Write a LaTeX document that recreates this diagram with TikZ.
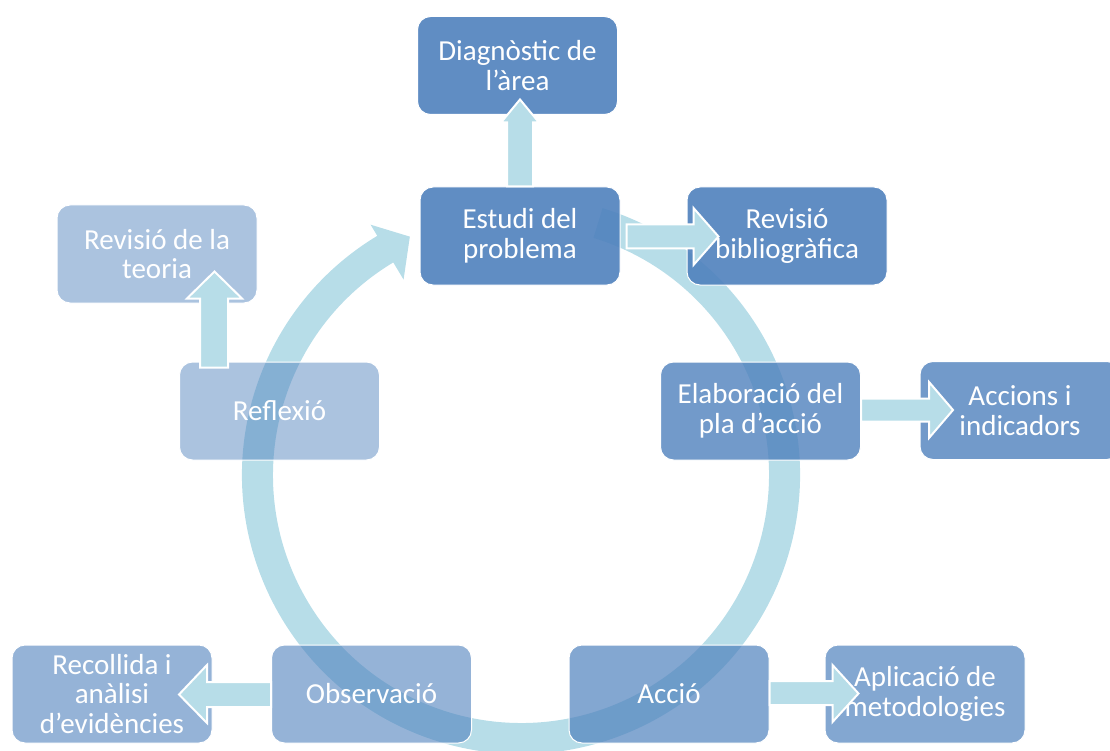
\documentclass[tikz,border=0pt]{standalone}
\usepackage{fontspec}
\setmainfont{Carlito}
\usetikzlibrary{calc}
\definecolor{boxblue}{HTML}{4F81BD}
\definecolor{ringcyan}{HTML}{B7DDE8}
\begin{document}
\begin{tikzpicture}[x=1pt,y=1pt,
  box/.style={rounded corners=13pt, minimum width=200pt, minimum height=98pt,
    fill=boxblue, draw=white, line width=1pt, text=white, text opacity=1,
    align=center, font=\fontsize{29}{29.5}\selectfont, inner sep=0pt},
  blockarrow/.style={fill=ringcyan, draw=white, line width=2pt, line join=miter},
  ringshape/.style={fill=ringcyan}]
\useasboundingbox (0,0) rectangle (1110,-751);
\clip (0,0) rectangle (1110,-751);
\coordinate (C) at (521,-475);
% circular arrow
\fill[ringshape] ($(C)+(73:279)$) arc[start angle=73, end angle=-239, radius=279pt]
  -- ($(C)+(-239:292)$) -- ($(C)+(-245:263)$) -- ($(C)+(-239:228)$)
  -- ($(C)+(-239:248)$) arc[start angle=-239, end angle=73, radius=248pt] -- cycle;
% boxes
\node[box, fill opacity=0.9] (diag) at (517.5,-65.5) {Diagnòstic de\\l’àrea};
\node[box, fill opacity=0.9] (estudi) at (520,-236) {Estudi del\\problema};
\node[box, fill opacity=0.9] (revbib) at (787,-236) {Revisió\\bibliogràfica};
\node[box, fill opacity=0.8] (elab) at (760.5,-411) {Elaboració del\\pla d’acció};
\node[box, fill opacity=0.8] (accions) at (1020,-410.5) {Accions i\\indicadors};
\node[box, fill opacity=0.7] (accio) at (669,-694) {Acció};
\node[box, fill opacity=0.7] (aplic) at (925,-694) {Aplicació de\\metodologies};
\node[box, fill opacity=0.6] (observ) at (371.5,-694) {Observació};
\node[box, fill opacity=0.6] (recoll) at (112,-694) {Recollida i\\anàlisi\\d’evidències};
\node[box, fill opacity=0.48] (reflexio) at (279.5,-411) {Reflexió};
\node[box, fill opacity=0.48] (teoria) at (157,-254) {Revisió de la\\teoria};
% block arrows
\draw[blockarrow] ($(estudi.north)+(-13,0)$) -- ($(estudi.north)+(-13,64)$)
  -- ($(estudi.north)+(-19,64)$) -- ($(estudi.north)+(0,87)$)
  -- ($(estudi.north)+(19,64)$) -- ($(estudi.north)+(13,64)$)
  -- ($(estudi.north)+(13,0)$) -- cycle;
\draw[blockarrow] ($(estudi.east)+(6,11.5)$) -- ($(estudi.east)+(73,11.5)$)
  -- ($(estudi.east)+(73,28)$) -- ($(estudi.east)+(98,-0.5)$)
  -- ($(estudi.east)+(73,-29)$) -- ($(estudi.east)+(73,-12.5)$)
  -- ($(estudi.east)+(6,-12.5)$) -- cycle;
\draw[blockarrow] ($(reflexio.north)+(-79.5,-6)$) -- ($(reflexio.north)+(-79.5,63)$)
  -- ($(reflexio.north)+(-92.5,63)$) -- ($(reflexio.north)+(-65,90)$)
  -- ($(reflexio.north)+(-37.5,63)$) -- ($(reflexio.north)+(-51.5,63)$)
  -- ($(reflexio.north)+(-51.5,-6)$) -- cycle;
\draw[blockarrow] ($(elab.east)+(0,12.5)$) -- ($(elab.east)+(68,12.5)$)
  -- ($(elab.east)+(68,29)$) -- ($(elab.east)+(92,1)$)
  -- ($(elab.east)+(68,-27)$) -- ($(elab.east)+(68,-10.5)$)
  -- ($(elab.east)+(0,-10.5)$) -- cycle;
\draw[blockarrow] ($(observ.west)+(0,12)$) -- ($(observ.west)+(-64,12)$)
  -- ($(observ.west)+(-64,29)$) -- ($(observ.west)+(-92,-0.5)$)
  -- ($(observ.west)+(-64,-29)$) -- ($(observ.west)+(-64,-13)$)
  -- ($(observ.west)+(0,-13)$) -- cycle;
\draw[blockarrow] ($(accio.east)+(0,13)$) -- ($(accio.east)+(63,13)$)
  -- ($(accio.east)+(63,29)$) -- ($(accio.east)+(89,0.5)$)
  -- ($(accio.east)+(63,-28)$) -- ($(accio.east)+(63,-11)$)
  -- ($(accio.east)+(0,-11)$) -- cycle;
\end{tikzpicture}
\end{document}
